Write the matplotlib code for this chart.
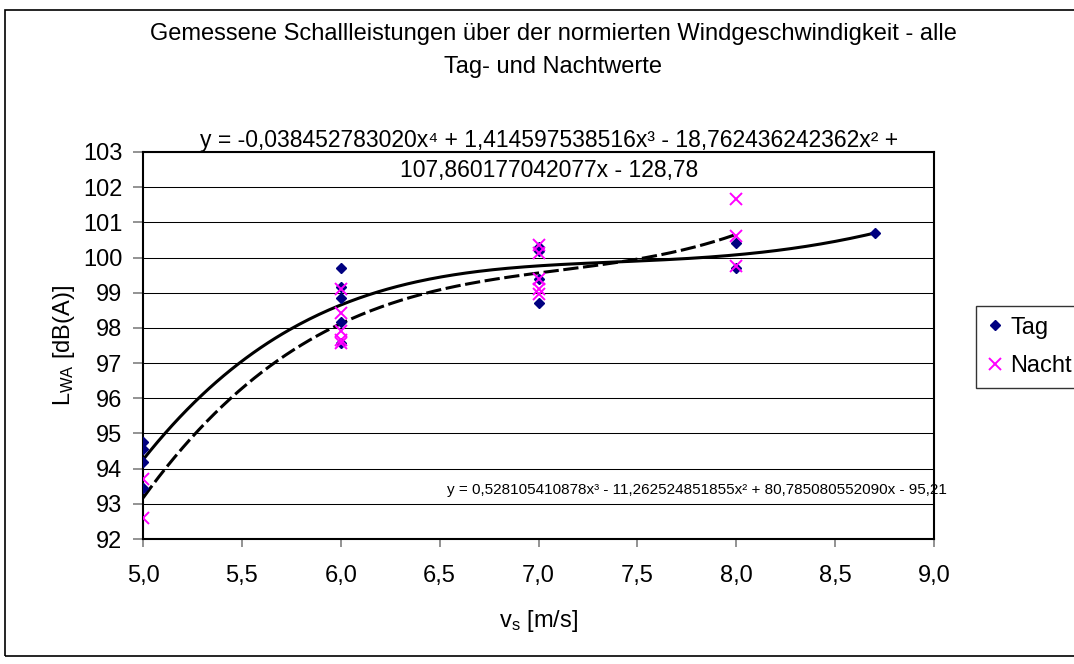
import numpy as np
import matplotlib.pyplot as plt
from matplotlib.patches import Rectangle
from matplotlib.lines import Line2D

plt.rcParams['font.family'] = ['Liberation Sans', 'DejaVu Sans']

# Messwerte Tag
tag_v = [5.0, 5.0, 5.0, 5.0,
         6.0, 6.0, 6.0, 6.0, 6.0,
         7.0, 7.0, 7.0, 7.0,
         8.0, 8.0,
         8.7]
tag_lwa = [94.75, 94.55, 94.2, 93.45,
           99.7, 99.15, 98.84, 98.18, 97.56,
           100.31, 100.19, 99.4, 98.7,
           100.41, 99.69,
           100.7]

# Messwerte Nacht
nacht_v = [5.0, 5.0,
           6.0, 6.0, 6.0, 6.0, 6.0,
           7.0, 7.0, 7.0, 7.0, 7.0,
           8.0, 8.0, 8.0]
nacht_lwa = [93.7, 92.6,
             99.1, 98.41, 97.9, 97.67, 97.56,
             100.35, 100.14, 99.39, 99.1, 98.96,
             101.65, 100.6, 99.75]

# Trendlinien (Polynomkoeffizienten, hoechste Potenz zuerst)
tag_coef = [-0.038452783020, 1.414597538516, -18.762436242362, 107.860177042077, -128.78]
nacht_coef = [0.528105410878, -11.262524851855, 80.785080552090, -95.21]

tag_eq_1 = "y = -0,038452783020x\u2074 + 1,414597538516x\u00b3 - 18,762436242362x\u00b2 +"
tag_eq_2 = "107,860177042077x - 128,78"
nacht_eq = "y = 0,528105410878x\u00b3 - 11,262524851855x\u00b2 + 80,785080552090x - 95,21"

W, H = 1074, 664
fig = plt.figure(figsize=(W / 100, H / 100), dpi=100)

# Rahmen um das Diagramm
fig.patches.append(Rectangle((5 / W, 1 - 656 / H), 1.2, (656 - 10) / H,
                             transform=fig.transFigure, fill=False,
                             edgecolor='black', linewidth=1.2))

ax = fig.add_axes([143 / W, 1 - 539 / H, (934 - 143) / W, (539 - 152) / H])

# Trendlinien
xs_tag = np.linspace(5.0, 8.7, 300)
xs_nacht = np.linspace(5.0, 8.0, 300)
ax.plot(xs_tag, np.polyval(tag_coef, xs_tag), color='black', lw=2.2,
        solid_capstyle='butt', zorder=3)
ax.plot(xs_nacht, np.polyval(nacht_coef, xs_nacht), color='black', lw=2.2,
        linestyle=(0, (5, 1.5)), zorder=3)

# Punkte
ax.plot(tag_v, tag_lwa, linestyle='none', marker='D', ms=5.5,
        color='#000080', mec='#000080', zorder=4)
ax.plot(nacht_v, nacht_lwa, linestyle='none', marker='x', ms=8, mew=1.4,
        color='#FF00FF', zorder=5)

ax.set_xlim(5.0, 9.0)
ax.set_ylim(92, 103)
ax.set_xticks(np.arange(5.0, 9.01, 0.5))
ax.set_xticklabels([f"{v:.1f}".replace('.', ',') for v in np.arange(5.0, 9.01, 0.5)])
ax.set_yticks(range(92, 104))
ax.yaxis.grid(True, color='black', lw=0.75)
ax.set_axisbelow(True)

for s in ax.spines.values():
    s.set_color('black')
    s.set_linewidth(1.5)

ax.tick_params(axis='both', labelsize=17, direction='out', color='#808080')
ax.tick_params(axis='y', length=7, width=1.2, pad=8)
ax.tick_params(axis='x', length=6, width=1.2, pad=13)

ax.set_xlabel(r'$\mathregular{v_s}$ [m/s]', fontsize=17)
ax.set_ylabel(r'$\mathregular{L_{WA}}$ [dB(A)]', fontsize=17)
ax.xaxis.set_label_coords(0.5, (539 - 621) / 387)
ax.yaxis.set_label_coords((64 - 143) / 791, 0.5)
ax.xaxis.label.set_va('center')
ax.yaxis.label.set_va('center')

# Titel
fig.text(553 / W, 1 - 34 / H, "Gemessene Schallleistungen \u00fcber der normierten Windgeschwindigkeit - alle",
         ha='center', va='center', fontsize=17)
fig.text(553 / W, 1 - 67 / H, "Tag- und Nachtwerte", ha='center', va='center', fontsize=17)

# Gleichungen der Trendlinien
fig.text(549 / W, 1 - 140 / H, tag_eq_1, ha='center', va='center', fontsize=16.5)
fig.text(549 / W, 1 - 170 / H, tag_eq_2, ha='center', va='center', fontsize=16.5)
fig.text(697 / W, 1 - 490 / H, nacht_eq, ha='center', va='center', fontsize=11)

# Legende
handles = [Line2D([], [], linestyle='none', marker='D', ms=5.5, color='#000080'),
           Line2D([], [], linestyle='none', marker='x', ms=8, mew=1.4, color='#FF00FF')]
leg = fig.legend(handles, ['Tag', 'Nacht'], loc='upper left',
                 bbox_to_anchor=(976 / W, 1 - 306 / H), fontsize=17,
                 frameon=True, fancybox=False, borderpad=0.45, borderaxespad=0,
                 handlelength=0.7, handletextpad=0.3, labelspacing=0.7)
leg.get_frame().set_edgecolor('black')
leg.get_frame().set_linewidth(1.0)

fig.savefig('out.png', dpi=100)
